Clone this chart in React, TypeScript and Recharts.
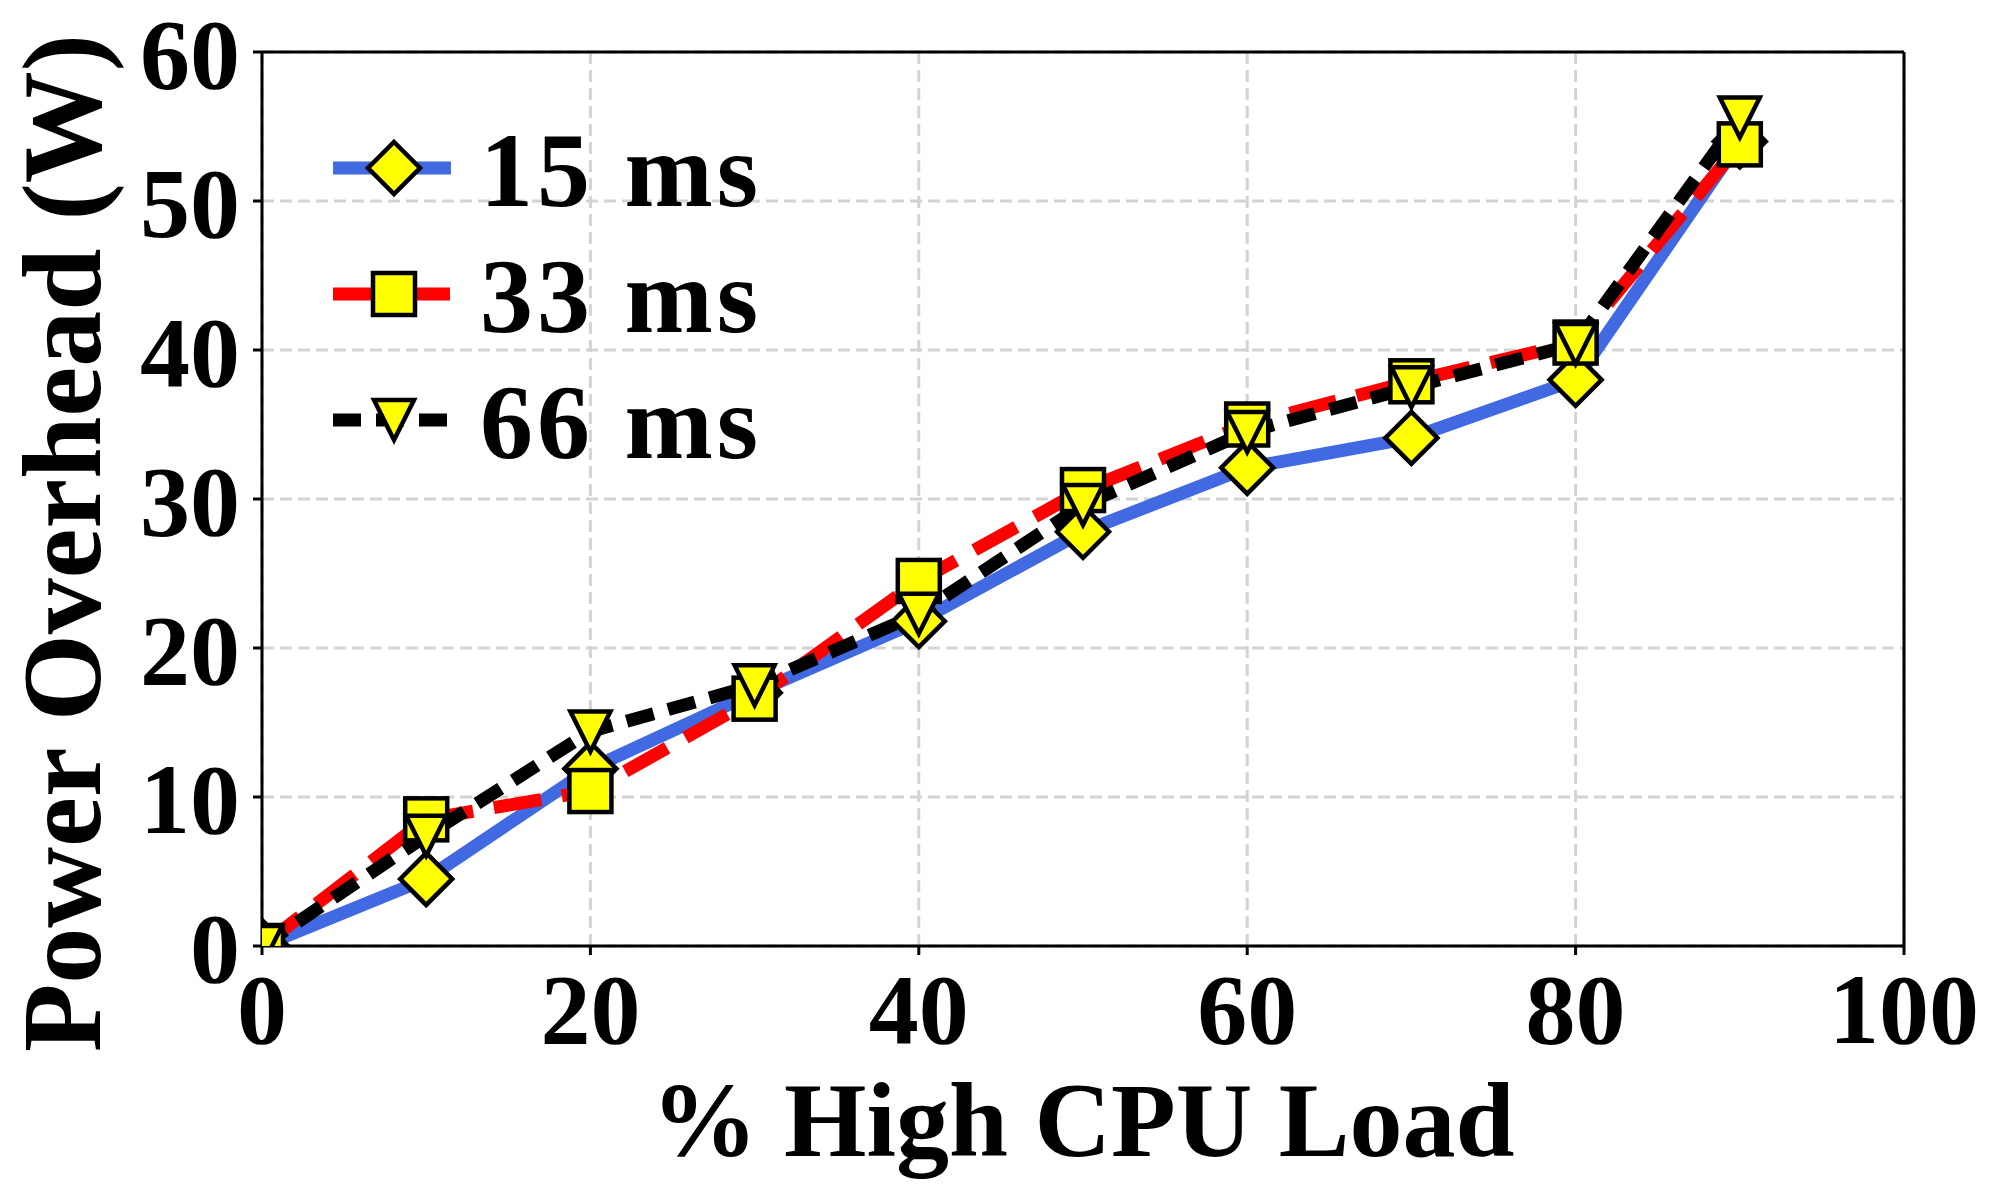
import { LineChart, Line, XAxis, YAxis, CartesianGrid, Legend, Label, ReferenceLine } from 'recharts';

// % high CPU load (x) and measured power overhead in W for each frame period
const loads = [0, 10, 20, 30, 40, 50, 60, 70, 80, 90];
const power15 = [0, 4.5, 11.9, 17.0, 21.8, 27.8, 32.1, 34.1, 38.0, 54.0];
const power33 = [0, 8.5, 10.4, 16.6, 24.5, 30.6, 35.0, 37.9, 40.5, 53.8];
const power66 = [0, 7.4, 14.4, 17.5, 22.3, 29.6, 34.5, 37.5, 40.4, 55.6];
const seriesKeys = ['ms15', 'ms33', 'ms66'];
const seriesNames = ['15 ms', '33 ms', '66 ms'];
const xTicks = [0, 20, 40, 60, 80, 100];
const yTicks = [0, 10, 20, 30, 40, 50, 60];

const data = loads.map((load, i) => ({
  load,
  ms15: power15[i],
  ms33: power33[i],
  ms66: power66[i],
}));

const FONT = '"Liberation Serif", "Times New Roman", serif';

const lineStyles: Record<string, { color: string; dash?: string; marker: string }> = {
  ms15: { color: '#4169e1', marker: 'diamond' },
  ms33: { color: '#ff0000', dash: '48 21', marker: 'square' },
  ms66: { color: '#000000', dash: '28 15', marker: 'triangle' },
};

const Marker = ({ kind, cx, cy }: { kind: string; cx: number; cy: number }) => {
  const common = { fill: '#ffff00', stroke: '#000', strokeWidth: 4.5, strokeLinejoin: 'miter' as const };
  if (cx == null || cy == null) return null;
  if (kind === 'diamond') {
    const r = 26;
    return <path d={`M${cx},${cy - r}L${cx + r},${cy}L${cx},${cy + r}L${cx - r},${cy}Z`} {...common} />;
  }
  if (kind === 'square') {
    const h = 21;
    return <rect x={cx - h} y={cy - h} width={h * 2} height={h * 2} {...common} />;
  }
  const h = 20;
  return <path d={`M${cx - h},${cy - h}L${cx + h},${cy - h}L${cx},${cy + h}Z`} {...common} />;
};

const renderLegend = ({ payload }: any) => (
  <div style={{ display: 'flex', flexDirection: 'column' }}>
    {(payload || []).map((entry: any) => {
      const key = entry.dataKey ?? entry.payload?.dataKey;
      const st = lineStyles[key];
      if (!st) return null;
      return (
        <div key={key} style={{ display: 'flex', alignItems: 'center', height: 126 }}>
          <svg width={147} height={126} style={{ display: 'block' }}>
            <line x1={0} x2={118} y1={63} y2={63} stroke={st.color} strokeWidth={13} strokeDasharray={st.dash} />
            <Marker kind={st.marker} cx={61} cy={63} />
          </svg>
          <span
            style={{
              fontFamily: FONT,
              fontWeight: 700,
              fontSize: 106,
              letterSpacing: 4,
              lineHeight: 1,
              color: '#000',
              paddingTop: 6,
              whiteSpace: 'nowrap',
            }}
          >
            {entry.value}
          </span>
        </div>
      );
    })}
  </div>
);

const XTitle = ({ viewBox }: any) => (
  <text x={viewBox.x + viewBox.width / 2} y={1156} textAnchor="middle" fontFamily={FONT} fontWeight={700} fontSize={106} fill="#000">
    % High CPU Load
  </text>
);

const YTitle = ({ viewBox }: any) => {
  const cx = 100;
  const cy = viewBox.y + viewBox.height / 2 + 44;
  return (
    <text x={cx} y={cy} transform={`rotate(-90, ${cx}, ${cy})`} textAnchor="middle" fontFamily={FONT} fontWeight={700} fontSize={112} fill="#000">
      Power Overhead (W)
    </text>
  );
};

const tickStyle = { fontFamily: FONT, fontSize: 100, fontWeight: 700, fill: '#000' };
const axisStroke = { stroke: '#000', strokeWidth: 3 };

export default function App() {
  return (
    <div style={{ position: 'absolute', left: 0, top: 0, background: '#fff' }}>
      <LineChart width={2000} height={1200} data={data} margin={{ top: 52, right: 96, bottom: 0, left: 0 }}>
        <CartesianGrid stroke="#d3d3d3" strokeWidth={3} strokeDasharray="12 6" />
        <XAxis
          type="number"
          dataKey="load"
          domain={[0, 100]}
          ticks={xTicks}
          interval={0}
          allowDataOverflow
          height={254}
          tickSize={9}
          tickMargin={17}
          tick={tickStyle}
          tickLine={axisStroke}
          axisLine={axisStroke}
        >
          <Label content={XTitle} />
        </XAxis>
        <YAxis
          type="number"
          domain={[0, 60]}
          ticks={yTicks}
          interval={0}
          allowDataOverflow
          width={262}
          tickSize={9}
          tickMargin={13}
          tick={tickStyle}
          tickLine={axisStroke}
          axisLine={axisStroke}
        >
          <Label content={YTitle} />
        </YAxis>
        {/* top and right spines */}
        <ReferenceLine y={60} stroke="#000" strokeWidth={3} />
        <ReferenceLine x={100} stroke="#000" strokeWidth={3} />
        {seriesKeys.map((key, i) => {
          const st = lineStyles[key];
          return (
            <Line
              key={key}
              type="linear"
              dataKey={key}
              name={seriesNames[i]}
              stroke={st.color}
              strokeWidth={13}
              strokeDasharray={st.dash}
              isAnimationActive={false}
              activeDot={false}
              dot={(p: any) => <Marker key={`${key}-${p.index}`} kind={st.marker} cx={p.cx} cy={p.cy} />}
            />
          );
        })}
        <Legend
          layout="vertical"
          align="center"
          verticalAlign="middle"
          content={renderLegend}
          wrapperStyle={{ left: 333, top: 105, width: 'auto', height: 'auto' }}
        />
      </LineChart>
    </div>
  );
}
